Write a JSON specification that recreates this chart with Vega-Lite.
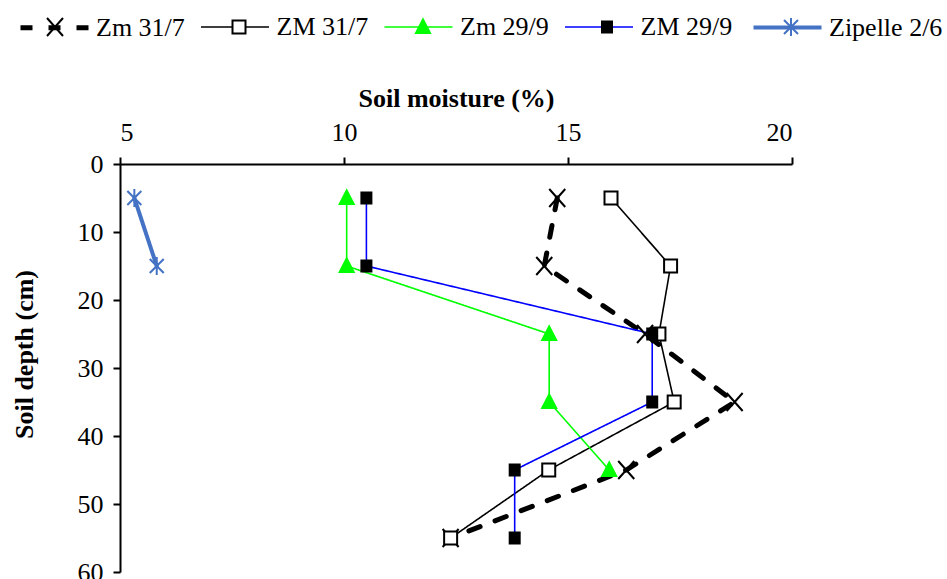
{
  "$schema": "https://vega.github.io/schema/vega-lite/v6.json",
  "width": 672,
  "height": 408,
  "autosize": {"type": "none"},
  "padding": {"left": 120, "top": 164, "right": 155, "bottom": 7},
  "background": "white",
  "config": {
    "view": {"stroke": null},
    "font": "Liberation Serif",
    "axis": {
      "domainColor": "black", "domainWidth": 2, "tickColor": "black", "tickWidth": 2, "tickSize": 7,
      "labelFont": "Liberation Serif", "labelFontSize": 26, "labelColor": "black",
      "titleFont": "Liberation Serif", "titleFontSize": 26, "titleFontWeight": "bold", "titleColor": "black",
      "grid": false
    }
  },
  "data": {
    "values": [
      {"series": "Zm 31/7", "moisture": 14.76, "depth": 5},
      {"series": "Zm 31/7", "moisture": 14.47, "depth": 15},
      {"series": "Zm 31/7", "moisture": 16.72, "depth": 25},
      {"series": "Zm 31/7", "moisture": 18.72, "depth": 35},
      {"series": "Zm 31/7", "moisture": 16.3, "depth": 45},
      {"series": "Zm 31/7", "moisture": 12.38, "depth": 55},
      {"series": "ZM 31/7", "moisture": 15.96, "depth": 5},
      {"series": "ZM 31/7", "moisture": 17.29, "depth": 15},
      {"series": "ZM 31/7", "moisture": 17.03, "depth": 25},
      {"series": "ZM 31/7", "moisture": 17.37, "depth": 35},
      {"series": "ZM 31/7", "moisture": 14.57, "depth": 45},
      {"series": "ZM 31/7", "moisture": 12.38, "depth": 55},
      {"series": "Zm 29/9", "moisture": 10.06, "depth": 5},
      {"series": "Zm 29/9", "moisture": 10.06, "depth": 15},
      {"series": "Zm 29/9", "moisture": 14.58, "depth": 25},
      {"series": "Zm 29/9", "moisture": 14.58, "depth": 35},
      {"series": "Zm 29/9", "moisture": 15.92, "depth": 45},
      {"series": "ZM 29/9", "moisture": 10.5, "depth": 5},
      {"series": "ZM 29/9", "moisture": 10.5, "depth": 15},
      {"series": "ZM 29/9", "moisture": 16.88, "depth": 25},
      {"series": "ZM 29/9", "moisture": 16.88, "depth": 35},
      {"series": "ZM 29/9", "moisture": 13.81, "depth": 45},
      {"series": "ZM 29/9", "moisture": 13.81, "depth": 55},
      {"series": "Zipelle 2/6", "moisture": 5.32, "depth": 5},
      {"series": "Zipelle 2/6", "moisture": 5.82, "depth": 15}
    ]
  },
  "encoding": {
    "x": {
      "field": "moisture", "type": "quantitative",
      "scale": {"domain": [5, 20], "nice": false, "zero": false},
      "axis": {"orient": "top", "values": [5, 10, 15, 20], "title": "Soil moisture (%)", "labelPadding": 12, "titlePadding": 8}
    },
    "y": {
      "field": "depth", "type": "quantitative",
      "scale": {"domain": [0, 60], "reverse": true, "nice": false},
      "axis": {"values": [0, 10, 20, 30, 40, 50, 60], "title": "Soil depth  (cm)", "labelPadding": 10, "titlePadding": 40, "titleY": 190}
    }
  },
  "layer": [
    {
      "mark": {"type": "line", "strokeCap": "round"},
      "encoding": {
        "color": {
          "field": "series", "type": "nominal",
          "scale": {
            "domain": ["Zm 31/7", "ZM 31/7", "Zm 29/9", "ZM 29/9", "Zipelle 2/6"],
            "range": ["black", "black", "#00FF00", "#0000FF", "#4472C4"]
          },
          "legend": {
            "orient": "none", "direction": "horizontal", "columns": 5,
            "legendX": -102, "legendY": -173,
            "title": null,
            "labelFont": "Liberation Serif", "labelFontSize": 26, "labelColor": "black",
            "labelOffset": 5, "columnPadding": 12.5,
            "symbolType": "stroke", "symbolSize": 4624, "symbolStrokeWidth": 2
          }
        },
        "strokeDash": {
          "field": "series", "type": "nominal",
          "scale": {
            "domain": ["Zm 31/7", "ZM 31/7", "Zm 29/9", "ZM 29/9", "Zipelle 2/6"],
            "range": [[12, 16], [1, 0], [1, 0], [1, 0], [1, 0]]
          },
          "legend": null
        },
        "strokeWidth": {
          "field": "series", "type": "nominal",
          "scale": {
            "type": "ordinal",
            "domain": ["Zm 31/7", "ZM 31/7", "Zm 29/9", "ZM 29/9", "Zipelle 2/6"],
            "range": [5, 1.6, 1.6, 1.6, 4]
          }
        },
        "order": {"field": "depth", "type": "quantitative"}
      }
    },
    {
      "mark": {"type": "point", "size": 400, "strokeWidth": 2, "opacity": 1},
      "encoding": {
        "shape": {
          "field": "series", "type": "nominal", "sort": null,
          "scale": {
            "range": [
              "M-1.3,0M1.3,0M-0.8,-0.9L0.8,0.9M-0.8,0.9L0.8,-0.9",
              "M-1.3,0M1.3,0M-0.65,-0.65H0.65V0.65H-0.65Z",
              "M-1.3,0M1.3,0M0,-0.75L0.7,0.6H-0.7Z",
              "M-1.3,0M1.3,0M-0.5,-0.55H0.5V0.55H-0.5Z",
              "M-1.3,0M1.3,0M-0.7,-0.7L0.7,0.7M-0.7,0.7L0.7,-0.7M0,-0.9V0.9"
            ]
          },
          "legend": {
            "orient": "none", "direction": "horizontal", "columns": 5,
            "legendX": -78, "legendY": -150,
            "title": null, "labelExpr": "''",
            "labelFont": "Liberation Serif", "labelFontSize": 26, "labelColor": "black",
            "labelOffset": 0, "columnPadding": 150,
            "symbolSize": 400, "symbolStrokeWidth": 2
          }
        },
        "fill": {
          "field": "series", "type": "nominal", "sort": null,
          "scale": {"range": ["black", "white", "#00FF00", "black", "#4472C4"]},
          "legend": {
            "orient": "none", "direction": "horizontal", "columns": 5,
            "legendX": -78, "legendY": -150,
            "title": null, "labelExpr": "''",
            "labelFont": "Liberation Serif", "labelFontSize": 26, "labelColor": "black",
            "labelOffset": 0, "columnPadding": 150,
            "symbolSize": 400, "symbolStrokeWidth": 2
          }
        },
        "stroke": {
          "field": "series", "type": "nominal", "sort": null,
          "scale": {"range": ["black", "black", "#00FF00", "black", "#4472C4"]},
          "legend": {
            "orient": "none", "direction": "horizontal", "columns": 5,
            "legendX": -78, "legendY": -150,
            "title": null, "labelExpr": "''",
            "labelFont": "Liberation Serif", "labelFontSize": 26, "labelColor": "black",
            "labelOffset": 0, "columnPadding": 150,
            "symbolSize": 400, "symbolStrokeWidth": 2
          }
        }
      }
    }
  ]
}
